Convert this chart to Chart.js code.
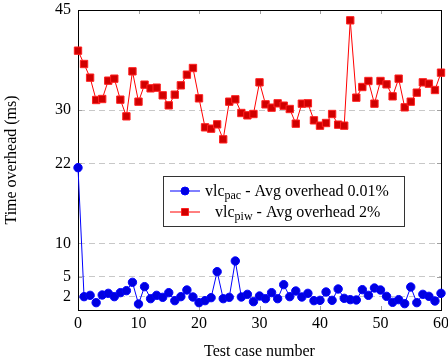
<!DOCTYPE html>
<html>
<head>
<meta charset="utf-8">
<script src="https://cdn.jsdelivr.net/npm/chart.js@4.4.1/dist/chart.umd.min.js"></script>
<style>
  html, body { margin: 0; padding: 0; background: #fff; }
  #wrap { width: 448px; height: 362px; }
</style>
</head>
<body>
<div id="wrap"><canvas id="overheadChart"></canvas></div>
<script>
// test case numbers
const caseIds = [0,1,2,3,4,5,6,7,8,9,10,11,12,13,14,15,16,17,18,19,20,21,22,23,24,25,26,27,28,29,30,
   31,32,33,34,35,36,37,38,39,40,41,42,43,44,45,46,47,48,49,50,51,52,53,54,55,56,57,58,59,60];

// vlc_pac overhead (ms)
const pacValues = [21.35, 2.0, 2.2, 1.1, 2.25, 2.5, 2.0, 2.6, 2.9, 4.15, 0.9, 3.5, 1.7, 2.2, 1.9, 2.6,
   1.4, 2.0, 3.0, 1.95, 1.1, 1.4, 1.85, 5.75, 1.7, 1.9, 7.35, 1.95, 2.35, 1.25, 2.1, 1.7, 2.6, 1.7,
   3.8, 2.0, 2.85, 1.95, 2.5, 1.4, 1.45, 2.7, 1.45, 3.15, 1.75, 1.55, 1.5, 3.05, 2.2, 3.3, 3.0, 2.05,
   1.15, 1.55, 0.95, 3.45, 1.1, 2.35, 2.05, 1.35, 2.5];

// vlc_piw overhead (ms)
const piwValues = [38.9, 36.9, 34.85, 31.5, 31.65, 34.4, 34.7, 31.55, 29.05, 35.8, 31.25, 33.8, 33.25,
   33.35, 32.2, 30.7, 32.3, 33.7, 35.3, 36.3, 31.75, 27.4, 27.2, 27.85, 25.6, 31.25, 31.6, 29.55, 29.2,
   29.4, 34.15, 30.85, 30.35, 31.0, 30.65, 30.15, 27.95, 30.95, 31.0, 28.45, 27.65, 28.05, 29.4, 27.8,
   27.65, 43.45, 31.85, 33.45, 34.35, 30.95, 34.35, 33.85, 32.05, 34.7, 30.4, 31.25, 32.6, 34.15, 33.95,
   33.0, 35.6];

const yTicks = [2, 5, 10, 22, 30, 45];
const xTicks = [0, 10, 20, 30, 40, 50, 60];

const legendItems = [
   { base: 'vlc', sub: 'pac', rest: ' - Avg overhead 0.01%' },
   { base: 'vlc', sub: 'piw', rest: ' - Avg overhead 2%' }
];

const FONT = "'Liberation Serif', 'DejaVu Serif', serif";

// box frame + inner tick marks (pgfplots look)
const framePlugin = {
   id: 'frame',
   beforeDatasetsDraw(chart) {
      const { ctx, chartArea: a, scales } = chart;
      ctx.save();
      ctx.strokeStyle = '#a0a0a0';
      ctx.lineWidth = 1;
      ctx.beginPath();
      xTicks.slice(1, -1).forEach(v => {
         const px = Math.round(scales.x.getPixelForValue(v)) + 0.5;
         ctx.moveTo(px, a.bottom); ctx.lineTo(px, a.bottom - 4);
         ctx.moveTo(px, a.top); ctx.lineTo(px, a.top + 4);
      });
      yTicks.forEach(v => {
         const py = Math.round(scales.y.getPixelForValue(v)) + 0.5;
         ctx.moveTo(a.left, py); ctx.lineTo(a.left + 4, py);
         ctx.moveTo(a.right, py); ctx.lineTo(a.right - 4, py);
      });
      ctx.stroke();
      ctx.strokeStyle = '#000';
      ctx.strokeRect(Math.round(a.left) + 0.5, Math.round(a.top) + 0.5,
         Math.round(a.right - a.left), Math.round(a.bottom - a.top));
      ctx.restore();
   }
};

// legend with subscripts
const legendPlugin = {
   id: 'subLegend',
   afterDraw(chart) {
      const { ctx } = chart;
      const bx = 163.5, by = 176.5, bw = 241, bh = 50;
      ctx.save();
      ctx.fillStyle = '#fff';
      ctx.fillRect(bx, by, bw, bh);
      ctx.strokeStyle = '#333';
      ctx.lineWidth = 1;
      ctx.strokeRect(bx, by, bw, bh);

      const rows = [191, 212];
      const textStarts = [205, 215];
      chart.data.datasets.forEach((ds, i) => {
         const y = rows[i];
         ctx.strokeStyle = ds.borderColor;
         ctx.lineWidth = 1;
         ctx.beginPath();
         ctx.moveTo(170, y); ctx.lineTo(200, y);
         ctx.stroke();
         ctx.fillStyle = ds.pointBackgroundColor;
         ctx.strokeStyle = ds.pointBorderColor;
         ctx.beginPath();
         if (ds.pointStyle === 'rect') {
            ctx.rect(181.5, y - 3.5, 7, 7);
         } else {
            ctx.arc(185, y, 4, 0, Math.PI * 2);
         }
         ctx.fill(); ctx.stroke();

         const it = legendItems[i];
         let x = textStarts[i];
         ctx.fillStyle = '#000';
         ctx.textBaseline = 'alphabetic';
         ctx.font = '16px ' + FONT;
         ctx.fillText(it.base, x, y + 5);
         x += ctx.measureText(it.base).width;
         ctx.font = '12px ' + FONT;
         ctx.fillText(it.sub, x, y + 8);
         x += ctx.measureText(it.sub).width;
         ctx.font = '16px ' + FONT;
         ctx.fillText(it.rest, x, y + 5);
      });
      ctx.restore();
   }
};

const ctx = document.getElementById('overheadChart').getContext('2d');

new Chart(ctx, {
   type: 'line',
   data: {
      datasets: [{
         label: 'vlc_pac - Avg overhead 0.01%',
         data: caseIds.map((c, i) => ({ x: c, y: pacValues[i] })),
         borderColor: '#0000ff',
         borderWidth: 1,
         pointStyle: 'circle',
         pointRadius: 4.2,
         pointBackgroundColor: '#0000e0',
         pointBorderColor: '#0000ff',
         pointBorderWidth: 1,
         tension: 0
      }, {
         label: 'vlc_piw - Avg overhead 2%',
         data: caseIds.map((c, i) => ({ x: c, y: piwValues[i] })),
         borderColor: '#ff0000',
         borderWidth: 1,
         pointStyle: 'rect',
         pointRadius: 5.2,
         pointBackgroundColor: '#d00000',
         pointBorderColor: '#ff2020',
         pointBorderWidth: 1,
         tension: 0
      }]
   },
   options: {
      responsive: true,
      maintainAspectRatio: false,
      animation: false,
      clip: false,
      layout: { padding: { top: 10, right: 7, left: 0, bottom: 0 } },
      plugins: {
         legend: { display: false },
         tooltip: { enabled: false }
      },
      scales: {
         x: {
            type: 'linear',
            min: 0,
            max: 60,
            afterBuildTicks: s => { s.ticks = xTicks.map(v => ({ value: v })); },
            afterFit: s => { s.height = 52; s.paddingLeft = 0; s.paddingRight = 0; },
            grid: { display: false, drawTicks: false },
            border: { display: true, color: '#000' },
            ticks: { color: '#000', padding: 4, font: { family: FONT, size: 16 } },
            title: {
               display: true,
               text: 'Test case number',
               color: '#000',
               padding: { top: 0, bottom: 1 },
               font: { family: FONT, size: 16 }
            }
         },
         y: {
            min: 0,
            max: 45,
            afterBuildTicks: s => { s.ticks = yTicks.map(v => ({ value: v })); },
            afterFit: s => { s.width = 78; s.paddingTop = 0; s.paddingBottom = 0; },
            grid: { color: '#c8c8c8', lineWidth: 1, drawTicks: false },
            border: { display: true, color: '#000', dash: [6, 4] },
            ticks: { color: '#000', padding: 7, font: { family: FONT, size: 16 } },
            title: {
               display: true,
               text: 'Time overhead (ms)',
               color: '#000',
               padding: { top: 2, bottom: 0 },
               font: { family: FONT, size: 16 }
            }
         }
      }
   },
   plugins: [framePlugin, legendPlugin]
});
</script>
</body>
</html>
